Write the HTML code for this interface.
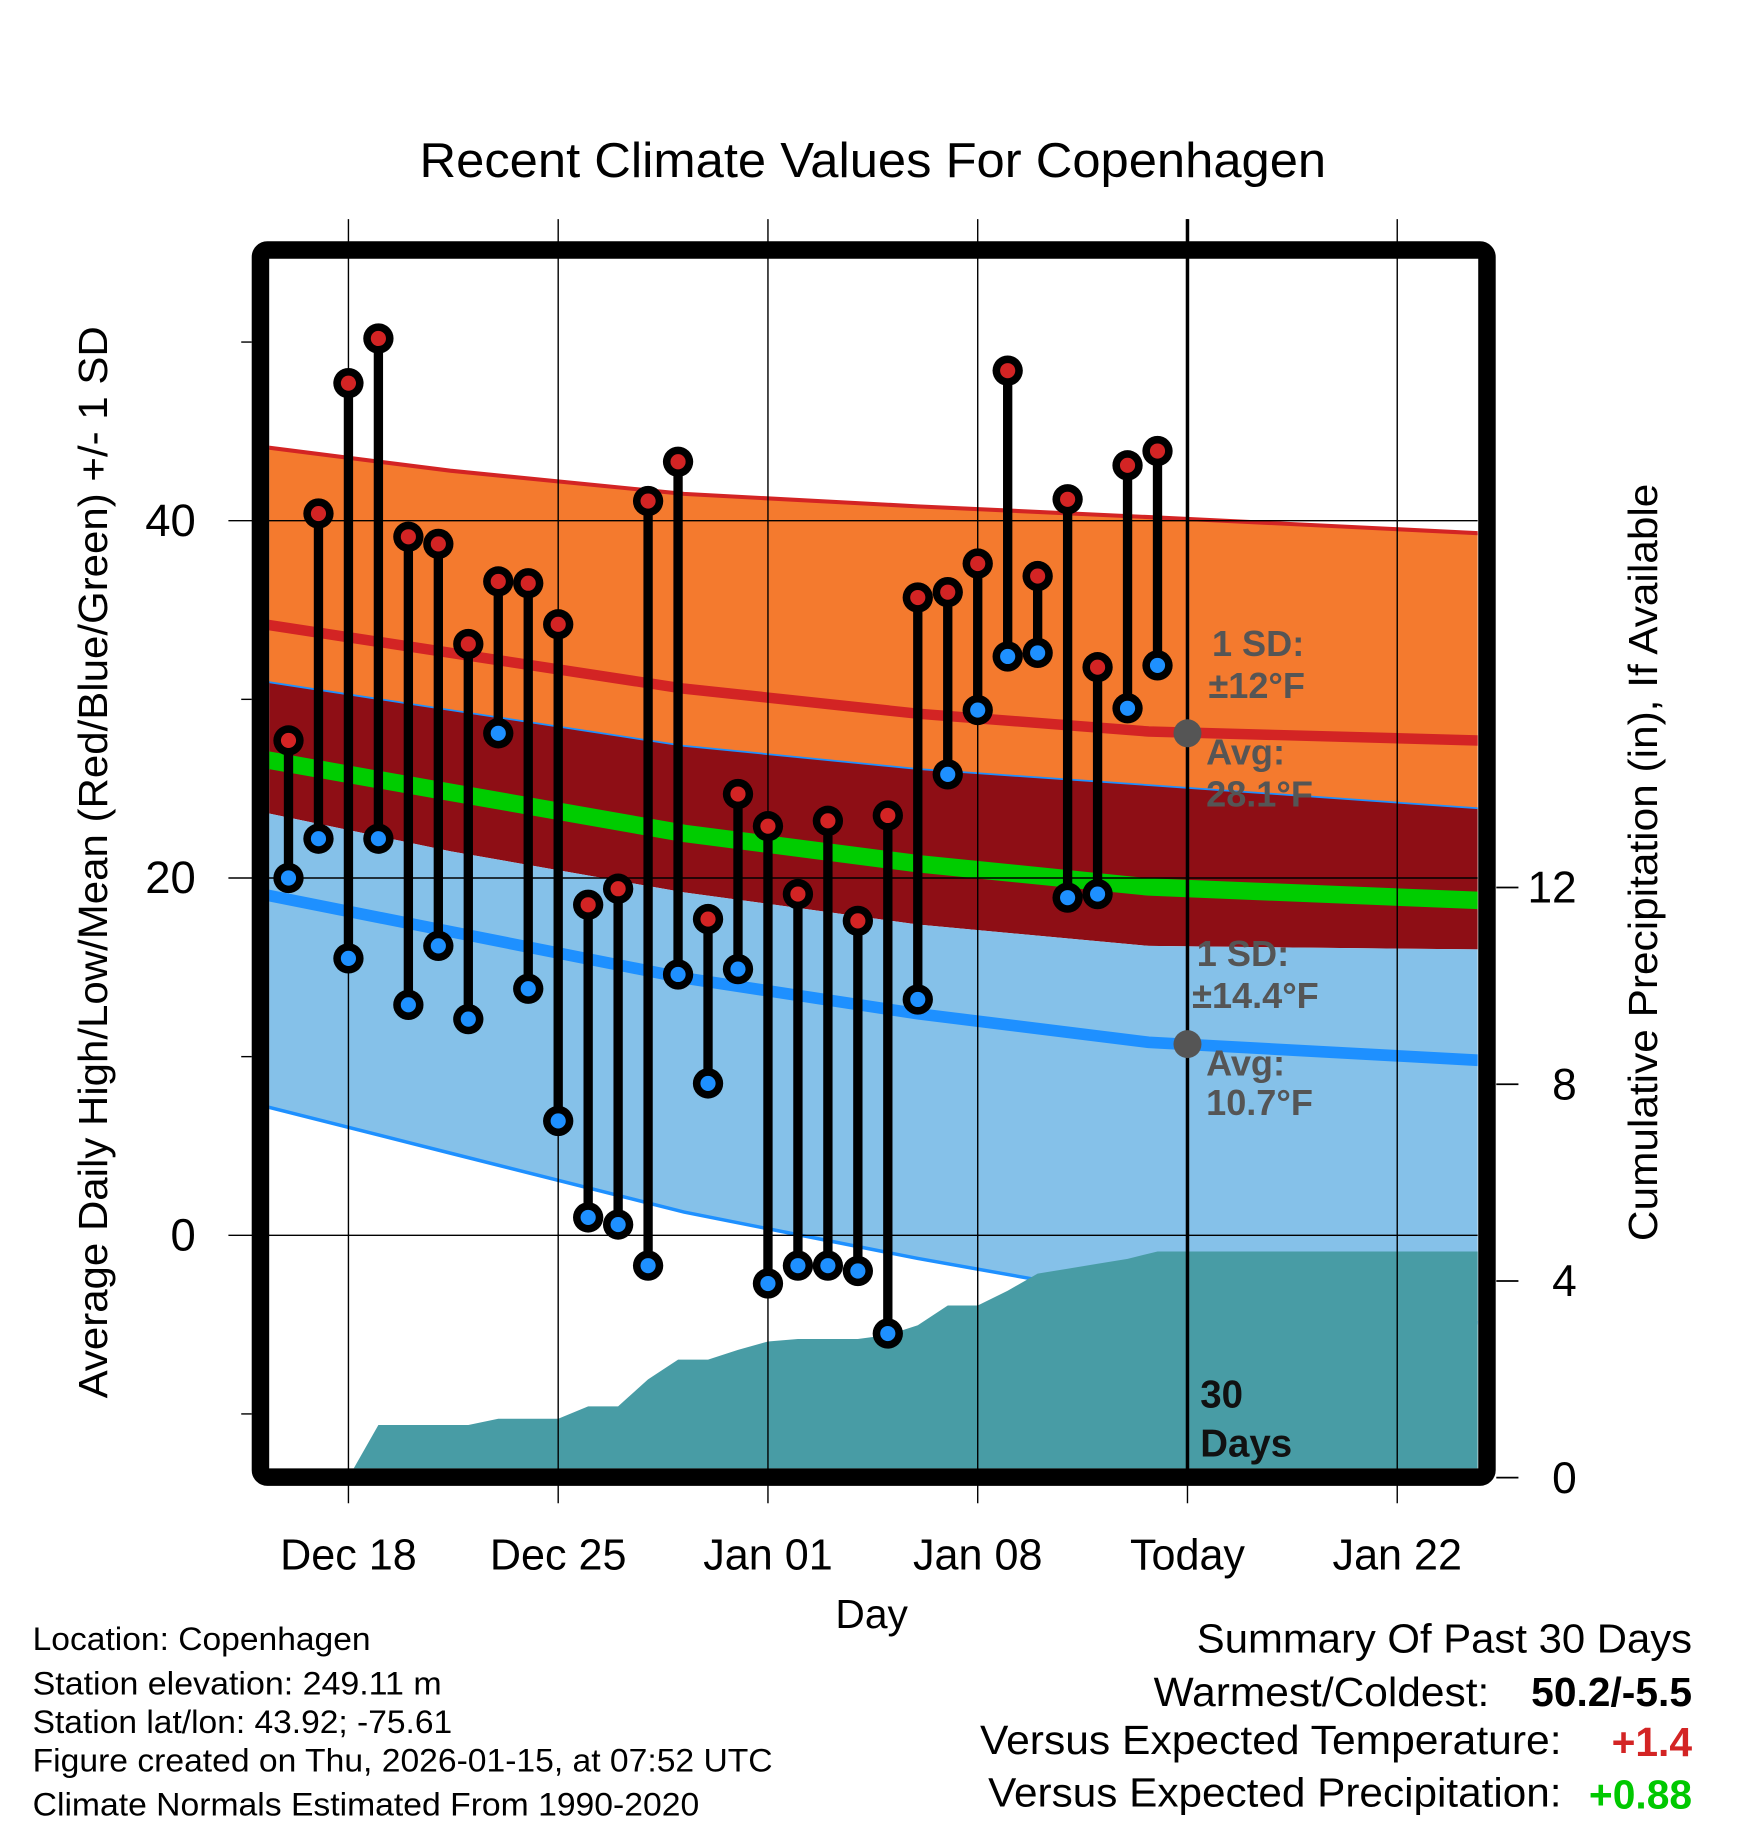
<!DOCTYPE html>
<html><head><meta charset="utf-8"><style>
html,body{margin:0;padding:0;background:#fff}
svg{display:block;font-family:"Liberation Sans",Arial,sans-serif}
</style></head><body>
<svg id="chart" width="1748" height="1828" viewBox="0 0 1500 1568.6" xmlns="http://www.w3.org/2000/svg">
<defs><clipPath id="plotclip"><rect x="231" y="222" width="1037" height="1038"/></clipPath></defs>
<text x="749" y="152" font-size="42" text-anchor="middle" textLength="778" lengthAdjust="spacingAndGlyphs">Recent Climate Values For Copenhagen</text>
<g id="plot" clip-path="url(#plotclip)"></g>
<g id="overlay"></g>
<rect x="223.5" y="214.5" width="1052.5" height="1053" rx="6" fill="none" stroke="#000" stroke-width="15"/>
<text x="748" y="1397" font-size="35" text-anchor="middle">Day</text>
<text transform="translate(92,740) rotate(-90)" font-size="35" text-anchor="middle" textLength="920" lengthAdjust="spacingAndGlyphs">Average Daily High/Low/Mean (Red/Blue/Green) +/- 1 SD</text>
<text transform="translate(1422,740) rotate(-90)" font-size="35" text-anchor="middle" textLength="650" lengthAdjust="spacingAndGlyphs">Cumulative Precipitation (in), If Available</text>
<g font-size="28">
<text x="28" y="1416" textLength="290" lengthAdjust="spacingAndGlyphs">Location: Copenhagen</text>
<text x="28" y="1454" textLength="351" lengthAdjust="spacingAndGlyphs">Station elevation: 249.11 m</text>
<text x="28" y="1487" textLength="360" lengthAdjust="spacingAndGlyphs">Station lat/lon: 43.92; -75.61</text>
<text x="28" y="1520" textLength="635" lengthAdjust="spacingAndGlyphs">Figure created on Thu, 2026-01-15, at 07:52 UTC</text>
<text x="28" y="1558" textLength="572" lengthAdjust="spacingAndGlyphs">Climate Normals Estimated From 1990-2020</text>
</g>
<g font-size="35">
<text x="1452" y="1418" text-anchor="end" textLength="425" lengthAdjust="spacingAndGlyphs">Summary Of Past 30 Days</text>
<text x="1278" y="1464" text-anchor="end" textLength="288" lengthAdjust="spacingAndGlyphs">Warmest/Coldest:</text>
<text x="1452" y="1464" text-anchor="end" font-weight="bold">50.2/-5.5</text>
<text x="1340" y="1505" text-anchor="end" textLength="499" lengthAdjust="spacingAndGlyphs">Versus Expected Temperature:</text>
<text x="1452" y="1507" text-anchor="end" font-weight="bold" fill="#D32424">+1.4</text>
<text x="1340" y="1550" text-anchor="end" textLength="492" lengthAdjust="spacingAndGlyphs">Versus Expected Precipitation:</text>
<text x="1452" y="1552" text-anchor="end" font-weight="bold" fill="#00C800">+0.88</text>
</g>
</svg>
<script>
// ---- data ----
const dayOffsets = [-2,-1,0,1,2,3,4,5,6,7,8,9,10,11,12,13,14,15,16,17,18,19,20,21,22,23,24,25,26,27];
const highs = [27.7,40.4,47.7,50.2,39.1,38.7,33.1,36.6,36.5,34.2,18.5,19.4,41.1,43.3,17.7,24.7,22.9,19.1,23.2,17.6,23.5,35.7,36.0,37.6,48.4,36.9,41.2,31.8,43.1,43.9];
const lows = [20.0,22.2,15.5,22.2,12.9,16.2,12.1,28.1,13.8,6.4,1.0,0.6,-1.7,14.6,8.5,14.9,-2.7,-1.7,-1.7,-2.0,-5.5,13.2,25.8,29.4,32.4,32.6,18.9,19.1,29.5,31.9];
const precip = [0,0,0,1.07,1.07,1.07,1.07,1.2,1.2,1.2,1.45,1.45,2.0,2.4,2.4,2.6,2.77,2.82,2.82,2.82,2.9,3.1,3.5,3.5,3.8,4.15,4.25,4.35,4.45,4.6];
const normalDays = [-3.2,3.4,11.2,19.0,26.7,37.7];
const highUpper = [44.2,42.8,41.5,40.8,40.2,39.3];
const highNorm = [34.3,32.6,30.6,29.2,28.2,27.7];
const highLower = [23.8,21.5,19.2,17.4,16.2,16.0];
const lowUpper = [31.1,29.4,27.4,26.1,25.2,23.9];
const lowNorm = [19.2,17.0,14.4,12.4,10.8,9.8];
const lowLower = [7.4,4.6,1.3,-1.3,-3.6,-4.9];
const xTickDays = [0,7,14,21,28,35];
const xTickLabels = ["Dec 18","Dec 25","Jan 01","Jan 08","Today","Jan 22"];
const yTicks = [40,20,0];
const yMinorTicks = [50,30,10,-10];
const y2Ticks = [0,4,8,12];
const todayDay = 28;
const todayHighAvg = 28.1, todayLowAvg = 10.7;

// ---- scales ----
const X = d => 299 + d*(180/7);
const Y = t => 1060 - t*15.33;
const Y2 = p => 1268 - p*42.2;
const NS = "http://www.w3.org/2000/svg";
function mk(tag, parent, attrs){const e=document.createElementNS(NS,tag);for(const k in attrs)e.setAttribute(k,attrs[k]);parent.appendChild(e);return e;}
const plot=document.getElementById('plot');
const ov=document.getElementById('overlay');

function pts(arr){return normalDays.map((d,i)=>X(d).toFixed(1)+','+Y(arr[i]).toFixed(1));}
function band(top,bot,fill,name){
  const p=pts(top).concat(pts(bot).reverse()).join(' ');
  const e=mk('polygon',plot,{points:p,fill:fill});
  
  
}
band(highUpper,lowUpper,'#F47A2E','high-sd-band');
band(lowUpper,highLower,'#8E0E15','overlap-band');
band(highLower,lowLower,'#85C1E9','low-sd-band');
function line(arr,color,w,name){
  const e=mk('polyline',plot,{points:pts(arr).join(' '),fill:'none',stroke:color,'stroke-width':w});
  
  
}
const meanNorm = highNorm.map((h,i)=>(h+lowNorm[i])/2);
line(highUpper,'#D32424',3.5,'high-upper-line');
line(lowUpper,'#1E90FF',1.5,'low-upper-line');
line(lowLower,'#1E90FF',3,'low-lower-line');
line(highNorm,'#D32424',9,'normal-high-line');
line(lowNorm,'#1E90FF',10,'normal-low-line');
line(meanNorm,'#00CC00',15,'normal-mean-line');

let pp=dayOffsets.map((d,i)=>X(d).toFixed(1)+','+Y2(precip[i]).toFixed(1));
pp.push('1270,'+Y2(precip[precip.length-1]).toFixed(1));
pp.push('1270,1262');pp.push(X(dayOffsets[0]).toFixed(1)+',1262');
const pa=mk('polygon',plot,{points:pp.join(' '),fill:'#489CA5'});



xTickDays.forEach((d,i)=>{
  const g=mk('line',ov,{x1:X(d),x2:X(d),y1:188,y2:1290,stroke:'#000','stroke-width':1.2});
  
  
  const t=mk('text',ov,{x:X(d),y:1347,'font-size':37,'text-anchor':'middle'});
  t.textContent=xTickLabels[i];
  
  
});
yTicks.forEach(v=>{
  const g=mk('line',ov,{x1:196,x2:1268,y1:Y(v),y2:Y(v),stroke:'#000','stroke-width':1.2});
  
  
  const t=mk('text',ov,{x:168,y:Y(v)+13,'font-size':39,'text-anchor':'end'});
  t.textContent=String(v);
  
  
});
yMinorTicks.forEach(v=>{
  const g=mk('line',ov,{x1:207,x2:216,y1:Y(v),y2:Y(v),stroke:'#000','stroke-width':1.2});
  
  
});
y2Ticks.forEach(v=>{
  const g=mk('line',ov,{x1:1284,x2:1303,y1:Y2(v),y2:Y2(v),stroke:'#000','stroke-width':1.5});
  
  
  const t=mk('text',ov,{x:1353,y:Y2(v)+13,'font-size':38,'text-anchor':'end'});
  t.textContent=String(v);
  
  
});

const tl=mk('line',ov,{x1:X(todayDay),x2:X(todayDay),y1:188,y2:1262,stroke:'#000','stroke-width':3});



dayOffsets.forEach((d,i)=>{
  const x=X(d);
  const s=mk('line',ov,{x1:x,x2:x,y1:Y(highs[i]),y2:Y(lows[i]),stroke:'#000','stroke-width':8});
  
  
});
dayOffsets.forEach((d,i)=>{
  const x=X(d);
  [[highs[i],'#D32424','high-marker'],[lows[i],'#1E90FF','low-marker']].forEach(([v,c,n])=>{
    const g=mk('g',ov,{});
    
    
    mk('circle',g,{cx:x,cy:Y(v),r:13,fill:'#000'});
    mk('circle',g,{cx:x,cy:Y(v),r:6.5,fill:c});
  });
});

[todayHighAvg,todayLowAvg].forEach((v,i)=>{
  const c=mk('circle',ov,{cx:X(todayDay),cy:Y(v),r:12,fill:'#555'});
  
  
});

const ann=[["1 SD:",1040,563],["\u00B112°F",1037,599],["Avg:",1035,656],["28.1°F",1035,692],
           ["1 SD:",1027,829],["\u00B114.4°F",1023,865],["Avg:",1035,923],["10.7°F",1035,957]];
ann.forEach(a=>{
  const t=mk('text',ov,{x:a[1],y:a[2],'font-size':31,'font-weight':'bold',fill:'#555'});
  t.textContent=a[0];
  
  
});
[["30",1208],["Days",1250]].forEach(a=>{
  const t=mk('text',ov,{x:1030,y:a[1],'font-size':33,'font-weight':'bold',fill:'#111'});
  t.textContent=a[0];
  
  
});
</script>
</body></html>
